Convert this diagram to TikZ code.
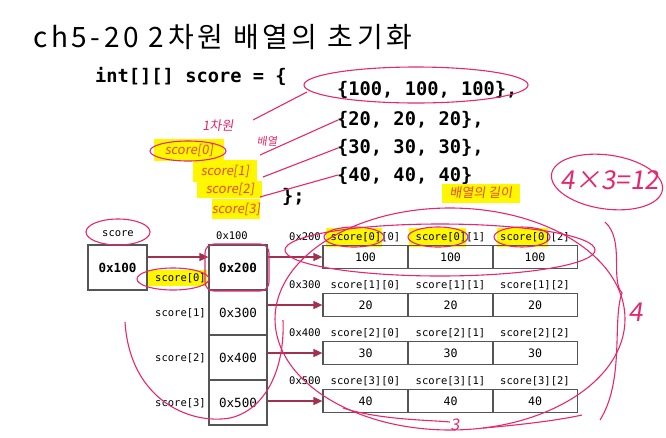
\documentclass[tikz,border=0pt]{standalone}
\usepackage{fontspec}
\setmonofont{DejaVu Sans Mono}
\newfontfamily\hangul[LetterSpace=13]{Noto Sans CJK KR}
\newfontfamily\hand[FakeSlant=0.15]{Noto Sans CJK KR}
\usetikzlibrary{arrows.meta}
\definecolor{ptrred}{RGB}{160,50,80}
\definecolor{pen}{RGB}{228,40,110}
\definecolor{penorange}{RGB}{236,72,32}
\definecolor{marker}{RGB}{255,247,0}
\definecolor{boxgray}{RGB}{85,85,85}
\tikzset{
  cell/.style={draw=boxgray, line width=1.2pt, minimum width=85pt, minimum height=23pt,
    inner sep=0pt, font=\ttfamily\fontsize{11.6}{12}\selectfont},
  pcell/.style={draw=boxgray, line width=1.2pt, minimum width=58pt, minimum height=45pt,
    inner sep=0pt, font=\ttfamily\fontsize{12.6}{13}\selectfont},
  lbl/.style={inner sep=0pt, font=\ttfamily\fontsize{10.5}{11}\selectfont},
  code/.style={inner sep=0pt, anchor=base west, font=\ttfamily\bfseries\fontsize{18.7}{19}\selectfont},
  ptr/.style={draw=ptrred, line width=1.6pt, -{Triangle[length=9pt,width=8pt]}},
  pen/.style={draw=pen, line width=1.1pt},
  scrawl/.style={inner sep=0pt, text=penorange, font=\hand\fontsize{13}{13}\selectfont},
}
\begin{document}
\begin{tikzpicture}[x=1pt, y=-1pt]
    \useasboundingbox (0,0) rectangle (666,437);
    % title and code
    \node[inner sep=0pt, anchor=base west, font=\hangul\fontsize{28}{30}\selectfont] (title) at (33,47) {ch5-20 2차원 배열의 초기화};
    \node[code] (decl) at (95,82) {int[][] score = \{};
    \node[code] (row0) at (337,95) {\{100, 100, 100\},};
    \node[code] (row1) at (337,125) {\{20, 20, 20\},};
    \node[code] (row2) at (337,153) {\{30, 30, 30\},};
    \node[code] (row3) at (337,181) {\{40, 40, 40\}};
    \node[code] (close) at (282,202) {\};};

    % yellow marker
    \fill[marker] (147,270) rectangle (207,286);
    \fill[marker] (326,228) rectangle (382,247);
    \fill[marker] (409,228) rectangle (466,247);
    \fill[marker] (497,228) rectangle (548,247);
    \fill[marker] (154,139) rectangle (224,161);
    \fill[marker] (193,160) rectangle (257,182);
    \fill[marker] (197,181) rectangle (262,198);
    \fill[marker] (212,199) rectangle (260,219);
    \fill[marker] (442,184) rectangle (520,203);

    % score variable
    \node[pcell, minimum width=59pt, font=\ttfamily\bfseries\fontsize{12.6}{13}\selectfont] (s) at (117.5,267.5) {0x100};
    \node[lbl] at (118,234) {score};

    % pointer array
    \node[pcell, font=\ttfamily\bfseries\fontsize{12.6}{13}\selectfont] (p0) at (238,267.5) {0x200};
    \node[pcell] (p1) at (238,312.5) {0x300};
    \node[pcell] (p2) at (238,357.5) {0x400};
    \node[pcell] (p3) at (238,402.5) {0x500};
    \node[lbl] at (232,236) {0x100};
    \node[lbl, anchor=east] at (206,278) {score[0]};
    \node[lbl, anchor=east] at (206,313) {score[1]};
    \node[lbl, anchor=east] at (206,358) {score[2]};
    \node[lbl, anchor=east] at (206,403) {score[3]};

    % rows
    \foreach \r/\v/\a/\yy in {0/100/0x200/257, 1/20/0x300/305, 2/30/0x400/353, 3/40/0x500/401} {
      \foreach \c/\xx in {0/365.5, 1/450.5, 2/535} {
        \node[cell] (r\r\c) at (\xx,\yy) {\v};
        \node[lbl] at (\xx,\yy-20) {score[\r][\c]};
      }
      \node[lbl, anchor=east] (a\r) at (321,\yy-20) {\a};
      \draw[ptr] (p\r.east |- r\r0.west) -- (r\r0.west);
    }
    \draw[ptr] (s.east |- r00.west) -- (p0.west |- r00.west);

    % pen notes
    \draw[pen] (416,85) ellipse [x radius=112, y radius=18];
    \node[scrawl, text=pen] at (218,126) {1차원};
    \node[scrawl, text=pen, font=\hand\fontsize{11}{11}\selectfont] at (267,141) {배열};
    \draw[pen] (253,120) -- (307,92);
    \draw[pen] (260,155) -- (338,120);
    \draw[pen] (263,177) -- (338,148);
    \draw[pen] (260,197) -- (338,175);
    \node[scrawl] at (189,150) {score[0]};
    \node[scrawl] at (225,171) {score[1]};
    \node[scrawl] at (230,189) {score[2]};
    \node[scrawl] at (236,209) {score[3]};
    \draw[pen] (188,151) ellipse [x radius=38, y radius=10];
    \node[scrawl] at (481,193) {배열의 길이};
    \node[scrawl, text=pen, font=\hand\fontsize{26}{26}\selectfont] at (610,180) {4×3=12};
    \draw[pen, rotate around={-8:(607,182)}] (607,182) ellipse [x radius=56, y radius=27];
    \draw[pen] (118,232) ellipse [x radius=32, y radius=13];
    \draw[pen, rounded corners=9] (205,244) rectangle (269,291);
    \draw[pen] (173,279) ellipse [x radius=36, y radius=11];
    \draw[pen] (354,237) ellipse [x radius=30, y radius=10];
    \draw[pen] (438,237) ellipse [x radius=30, y radius=10];
    \draw[pen] (522,237) ellipse [x radius=28, y radius=10];
    \draw[pen] (440,250) ellipse [x radius=155, y radius=26];
    \draw[pen] (450,319) ellipse [x radius=175, y radius=111];
    \draw[pen] (125,322) .. controls (130,400) and (190,425) .. (230,418) .. controls (265,410) and (285,370) .. (283,320);
    \draw[pen] (343,408) .. controls (380,420) and (430,420) .. (450,422);
    \draw[pen] (483,428) .. controls (520,425) and (560,420) .. (582,415);
    \node[scrawl, text=pen, font=\hand\fontsize{16}{16}\selectfont] at (455,425) {3};
    \draw[pen] (605,222) .. controls (625,240) and (610,280) .. (622,293) .. controls (612,320) and (625,380) .. (600,420);
    \node[scrawl, text=pen, font=\hand\fontsize{26}{26}\selectfont] at (636,312) {4};
\end{tikzpicture}
\end{document}
